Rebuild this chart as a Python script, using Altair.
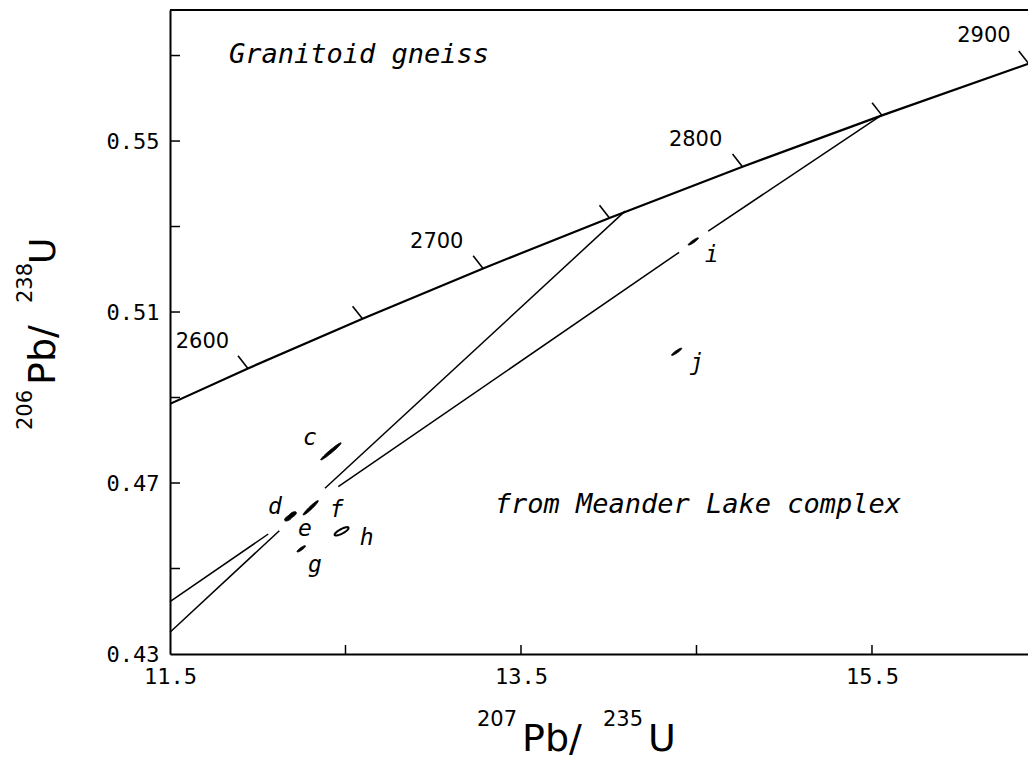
import altair as alt
import numpy as np
import pandas as pd

# ---------------- data ----------------
# Concordia curve (ages in Ma) and its 207Pb/235U, 206Pb/238U coordinates
conc_age = [2550, 2600, 2650, 2700, 2750, 2800, 2850, 2900, 2950]
conc_x = [11.322, 11.944, 12.597, 13.284, 14.004, 14.762, 15.557, 16.393, 17.271]
conc_y = [0.4852, 0.4968, 0.5084, 0.5202, 0.5320, 0.5440, 0.5560, 0.5681, 0.5803]

# labelled ages on the concordia
age_text = ["2600", "2700", "2800", "2900"]
age_text_x = [11.685, 13.020, 14.495, 16.138]
age_text_y = [0.5029, 0.5263, 0.5502, 0.5746]

# discordia line segments (two chords, broken around the data)
seg_name = ["A", "A", "B", "B", "B"]
seg_x1 = [14.093, 12.123, 15.557, 14.401, 12.060]
seg_y1 = [0.5336, 0.45884, 0.5561, 0.52397, 0.45807]
seg_x2 = [12.383, 11.500, 14.567, 12.459, 11.500]
seg_y2 = [0.46876, 0.43508, 0.52895, 0.46913, 0.44223]

# zircon fractions: centre, half extents, error correlation
frac = ["c", "d", "e", "f", "g", "h", "i", "j"]
frac_x = [12.417, 12.175, 12.198, 12.302, 12.248, 12.478, 14.482, 14.387]
frac_y = [0.4774, 0.4618, 0.4626, 0.4642, 0.4546, 0.4587, 0.5265, 0.5007]
frac_sx = [0.058, 0.022, 0.022, 0.043, 0.024, 0.040, 0.029, 0.029]
frac_sy = [0.0020, 0.00068, 0.00068, 0.00168, 0.00073, 0.00098, 0.00085, 0.00085]
frac_rho = [0.975, 0.6, 0.6, 0.96, 0.88, 0.8, 0.92, 0.92]
frac_hollow = ["h"]
frac_lab_x = [12.298, 12.098, 12.269, 12.450, 12.326, 12.621, 14.587, 14.501]
frac_lab_y = [0.4805, 0.4645, 0.4592, 0.4637, 0.4508, 0.4571, 0.5233, 0.4980]

# axes
x_labels = [11.5, 13.5, 15.5]
x_ticks = [12.5, 13.5, 14.5, 15.5]
y_labels = [0.43, 0.47, 0.51, 0.55]
y_ticks = [0.45, 0.47, 0.49, 0.51, 0.53, 0.55, 0.57]
x_dom = [11.5, 16.389]
y_dom = [0.43, 0.58065]

notes = ["Granitoid gneiss", "from Meander Lake complex"]
notes_x = [11.836, 13.350]
notes_y = [0.56825, 0.46291]

# ---------------- tables ----------------
W, H = 858, 644
xs = alt.Scale(domain=x_dom, nice=False, zero=False)
ys = alt.Scale(domain=y_dom, nice=False, zero=False)
x_axis = alt.Axis(values=x_labels, format=".1f", title=None, ticks=False, grid=False,
                  labelFlush=False, labelPadding=12, labelOverlap=False,
                  domain=True, domainColor="black", domainWidth=2)
y_axis = alt.Axis(values=y_labels, format=".2f", title=None, ticks=False, grid=False,
                  labelFlush=False, labelPadding=11, labelOverlap=False,
                  domain=True, domainColor="black", domainWidth=2)

conc = pd.DataFrame({"age": conc_age, "x": conc_x, "y": conc_y})
ticks_df = conc[(conc.age >= 2600) & (conc.age <= 2900)]
ages_df = pd.DataFrame({"t": age_text, "x": age_text_x, "y": age_text_y})
segs = pd.DataFrame({"s": seg_name, "x": seg_x1, "y": seg_y1, "x2": seg_x2, "y2": seg_y2})

rows = []
tt = np.linspace(0, 2 * np.pi, 49)
for k, name in enumerate(frac):
    r = frac_rho[k]
    for n, t in enumerate(tt):
        rows.append({
            "frac": name, "n": n,
            "x": frac_x[k] + frac_sx[k] * np.cos(t),
            "y": frac_y[k] + frac_sy[k] * (r * np.cos(t) + np.sqrt(1 - r * r) * np.sin(t)),
        })
ell = pd.DataFrame(rows)
ell_fill = ell[~ell.frac.isin(frac_hollow)]
ell_open = ell[ell.frac.isin(frac_hollow)]
labs = pd.DataFrame({"t": frac, "x": frac_lab_x, "y": frac_lab_y})
notes_df = pd.DataFrame({"t": notes, "x": notes_x, "y": notes_y})


def X(f="x"):
    return alt.X(f"{f}:Q", scale=xs, axis=x_axis)


def Y(f="y"):
    return alt.Y(f"{f}:Q", scale=ys, axis=y_axis)


concordia = alt.Chart(conc).mark_line(color="black", strokeWidth=2.2, clip=True).encode(
    x=X(), y=Y(), order="age:Q")

age_ticks = alt.Chart(ticks_df).mark_point(
    shape="M0,0L-0.62,-0.79", size=1024, filled=False, stroke="black",
    strokeWidth=1.6, opacity=1
).encode(x=X(), y=Y())

age_labels = alt.Chart(ages_df).mark_text(
    font="DejaVu Sans", fontSize=21, color="black", align="center", baseline="middle"
).encode(x=X(), y=Y(), text="t:N")

discordia = alt.Chart(segs).mark_rule(color="black", strokeWidth=1.5).encode(
    x=X(), y=Y(), x2="x2:Q", y2="y2:Q")

ell_f = alt.Chart(ell_fill).mark_line(fill="black", stroke="black", strokeWidth=1.0).encode(
    x=X(), y=Y(), detail="frac:N", order="n:Q")
ell_o = alt.Chart(ell_open).mark_line(stroke="black", strokeWidth=2).encode(
    x=X(), y=Y(), detail="frac:N", order="n:Q")

frac_labels = alt.Chart(labs).mark_text(
    font="DejaVu Sans Mono", fontStyle="italic", fontSize=23, color="black",
    align="center", baseline="middle"
).encode(x=X(), y=Y(), text="t:N")

note_text = alt.Chart(notes_df).mark_text(
    font="DejaVu Sans Mono", fontStyle="italic", fontSize=27, color="black",
    align="left", baseline="alphabetic"
).encode(x=X(), y=Y(), text="t:N")

# inward ticks and the top frame line
xtick = alt.Chart(pd.DataFrame({"v": x_ticks})).mark_rule(color="black", strokeWidth=1.5).encode(
    x=X("v"), y=alt.value(H), y2=alt.value(H - 9))
ytick = alt.Chart(pd.DataFrame({"v": y_ticks})).mark_rule(color="black", strokeWidth=1.5).encode(
    y=Y("v"), x=alt.value(0), x2=alt.value(10))
top = alt.Chart(pd.DataFrame({"k": [0]})).mark_rule(color="black", strokeWidth=2).encode(
    x=alt.value(0), x2=alt.value(W), y=alt.value(0))


# axis titles with raised isotope numbers
def piece(txt, px, py, size, angle=0):
    return alt.Chart(pd.DataFrame({"t": [txt]})).mark_text(
        font="DejaVu Sans", fontSize=size, color="black", align="left",
        baseline="alphabetic", angle=angle
    ).encode(x=alt.value(px), y=alt.value(py), text="t:N")


titles = [
    piece("207", 307, 716, 21), piece("Pb/", 352, 741, 38),
    piece("235", 433, 716, 21), piece("U", 478, 741, 38),
    piece("206", -138, 420, 21, 270), piece("Pb/", -115, 375, 38, 270),
    piece("238", -138, 293, 21, 270), piece("U", -115, 254, 36, 270),
]

chart = alt.layer(
    concordia, discordia, age_ticks, age_labels, ell_f, ell_o, frac_labels,
    note_text, xtick, ytick, top, *titles
).properties(
    width=W, height=H,
    autosize=alt.AutoSizeParams(type="none"),
    padding={"left": 162, "top": 2, "right": 0, "bottom": 105},
    background="white",
).configure_view(stroke=None).configure_axis(
    domainColor="black", domainWidth=2, labelColor="black",
    labelFont="DejaVu Sans Mono", labelFontSize=22,
)

chart.save("out.html", embed_options={"renderer": "svg", "actions": False})
